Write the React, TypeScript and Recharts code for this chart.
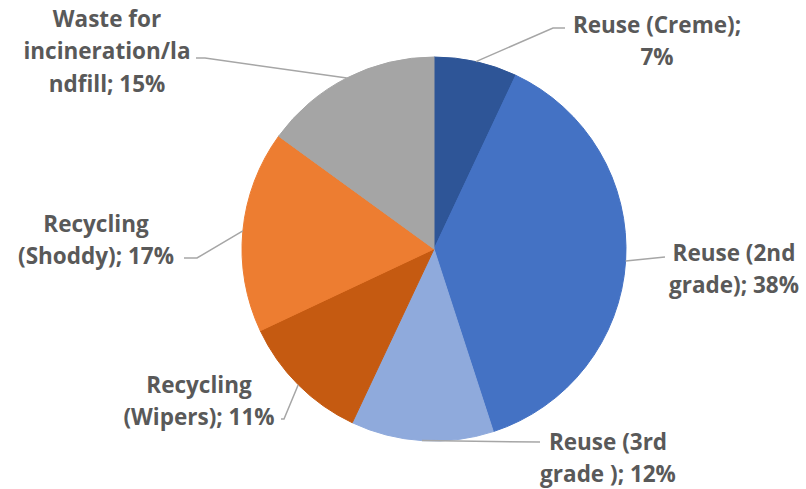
import { PieChart, Pie, Cell } from "recharts";

const categories = [
  "Reuse (Creme)",
  "Reuse (2nd grade)",
  "Reuse (3rd grade )",
  "Recycling (Wipers)",
  "Recycling (Shoddy)",
  "Waste for incineration/landfill",
];
const shares = [7, 38, 12, 11, 17, 15];
const labelLines = [
  ["Reuse (Creme);", "7%"],
  ["Reuse (2nd", "grade); 38%"],
  ["Reuse (3rd", "grade ); 12%"],
  ["Recycling", "(Wipers); 11%"],
  ["Recycling", "(Shoddy); 17%"],
  ["Waste for", "incineration/la", "ndfill; 15%"],
];

const COLORS = ["#2E5597", "#4472C4", "#8FAADC", "#C55A11", "#ED7D31", "#A5A5A5"];

// label placement: elbow points of the leader and text block centre
const LAYOUT = [
  { elbow: [[553, 28], [565, 28]], x: 657, y: 24 },
  { elbow: [[665, 257]], x: 734, y: 252 },
  { elbow: [[540, 442]], x: 608, y: 441 },
  { elbow: [[284, 419], [281, 419]], x: 199, y: 384 },
  { elbow: [[197, 258], [184, 258]], x: 96, y: 223 },
  { elbow: [[205, 58], [196, 58]], x: 107, y: 18 },
];

const data = categories.map((name, i) => ({ name, value: shares[i] }));

const RAD = Math.PI / 180;

const renderLabel = (props: any) => {
  const { cx, cy, midAngle, outerRadius, index } = props;
  const sx = cx + outerRadius * Math.cos(-midAngle * RAD);
  const sy = cy + outerRadius * Math.sin(-midAngle * RAD);
  const l = LAYOUT[index];
  const pts = [[sx, sy], ...l.elbow].map((p) => p.join(",")).join(" ");
  return (
    <g key={`lbl-${index}`}>
      <polyline points={pts} fill="none" stroke="#A6A6A6" strokeWidth={1.5} />
      <text
        x={l.x}
        y={l.y}
        textAnchor="middle"
        fill="#595959"
        fontFamily="'Open Sans', sans-serif"
        fontWeight="bold"
        fontSize={22.5}
      >
        {labelLines[index].map((t, j) => (
          <tspan key={j} x={l.x} y={l.y + j * 32.5} dominantBaseline="central">
            {t}
          </tspan>
        ))}
      </text>
    </g>
  );
};

export default function App() {
  return (
    <div style={{ position: "absolute", left: 0, top: 0, background: "#fff" }}>
      <PieChart width={806} height={489}>
        <Pie
          data={data}
          dataKey="value"
          cx={429}
          cy={244}
          outerRadius={192}
          startAngle={90}
          endAngle={-270}
          label={renderLabel}
          labelLine={false}
          isAnimationActive={false}
        >
          {data.map((_, i) => (
            <Cell key={`cell-${i}`} fill={COLORS[i]} stroke={COLORS[i]} />
          ))}
        </Pie>
      </PieChart>
    </div>
  );
}
